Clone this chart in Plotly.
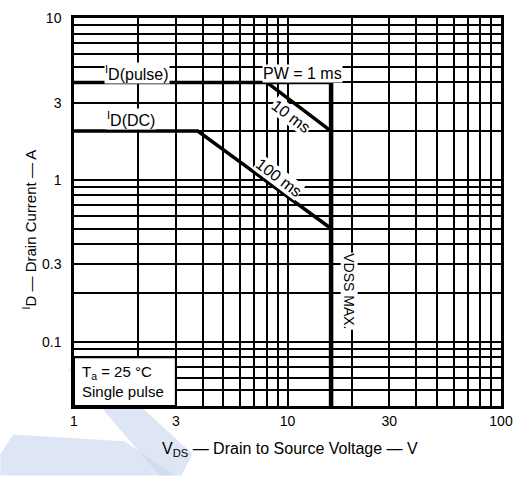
import math
import plotly.graph_objects as go

# ---- data ----
pulse_v = [1, 16]          # PW = 1 ms limit
pulse_i = [4, 4]
ms10_v = [8, 16]           # 10 ms limit
ms10_i = [4, 2]
dc_v = [1, 3.8, 16]        # DC / 100 ms limit
dc_i = [2, 2, 0.5]
vdss_v = [16, 16]          # VDSS max
vdss_i = [4, 0.04]

x_ticks = [1, 3, 10, 30, 100]
x_ticklabels = ["1", "3", "10", "30", "100"]
x_minor = [2, 4, 5, 6, 7, 8, 9, 20, 40, 50, 60, 70, 80, 90]
y_ticks = [0.1, 0.3, 1, 3, 10]
y_ticklabels = ["0.1", "0.3", "1", "3", "10"]
y_minor = [0.05, 0.06, 0.07, 0.08, 0.09, 0.2, 0.4, 0.5, 0.6, 0.7, 0.8, 0.9,
           2, 4, 5, 6, 7, 8, 9]

W, H = 523, 477
ML, MR, MT, MB = 74, 20, 10, 71
PW_, PH_ = W - ML - MR, H - MT - MB


def px(xp):
    return (xp - ML) / PW_


def py(yp):
    return (H - MB - yp) / PH_


FONT = "Liberation Sans, Arial, sans-serif"
fig = go.Figure()

line_style = dict(color="black", width=3.5)
for xv, yv in [(pulse_v, pulse_i), (ms10_v, ms10_i), (dc_v, dc_i)]:
    fig.add_trace(go.Scatter(x=xv, y=yv, mode="lines", line=line_style,
                             showlegend=False, hoverinfo="skip"))
fig.add_trace(go.Scatter(x=vdss_v, y=vdss_i, mode="lines",
                         line=dict(color="black", width=4.5),
                         showlegend=False, hoverinfo="skip"))

grid = dict(showgrid=True, gridcolor="black", gridwidth=1.6)
fig.update_xaxes(type="log", range=[0, 2], tickmode="array", tickvals=x_ticks,
                 ticktext=x_ticklabels, **grid,
                 minor=dict(tickmode="array", tickvals=x_minor, showgrid=True,
                            gridcolor="black", gridwidth=1.6, ticks=""),
                 showline=True, linecolor="black", linewidth=2.5, mirror=True,
                 zeroline=False, ticks="", tickfont=dict(family=FONT, size=14, color="black"))
fig.update_yaxes(type="log", range=[math.log10(0.04), 1], tickmode="array", tickvals=y_ticks,
                 ticktext=y_ticklabels, **grid,
                 minor=dict(tickmode="array", tickvals=y_minor, showgrid=True,
                            gridcolor="black", gridwidth=1.6, ticks=""),
                 showline=True, linecolor="black", linewidth=2.5, mirror=True,
                 zeroline=False, ticks="", ticklabelstandoff=7,
                 tickfont=dict(family=FONT, size=14, color="black"))

shapes = []
# watermark (light blue)
wm = "rgba(200,214,240,0.6)"
band = [(68, 368), (100, 368), (193, 455), (182, 477), (160, 477)]
para = [(13, 435), (125, 442), (175, 477), (0, 477), (0, 455)]
for poly in (band, para):
    path = "M " + " L ".join(f"{px(a):.4f},{py(b):.4f}" for a, b in poly) + " Z"
    shapes.append(dict(type="path", path=path, xref="paper", yref="paper",
                       fillcolor=wm, line=dict(width=0), layer="below"))
# condition box
shapes.append(dict(type="rect", xref="x", yref="y", x0=1, x1=3, y0=0.04, y1=0.08,
                   fillcolor="white", line=dict(color="black", width=2),
                   layer="above"))
fig.update_layout(shapes=shapes)

L = math.log10
ann_font = dict(family=FONT, size=16, color="black")
anns = [
    dict(x=L(1.97), y=L(4.6), text="<sup>I</sup>D(pulse)", bgcolor="white"),
    dict(x=L(1.85), y=L(2.38), text="<sup>I</sup>D(DC)", bgcolor="white"),
    dict(x=L(11.8), y=L(4.55), text="PW = 1 ms", bgcolor="white"),
    dict(x=L(10.4), y=L(2.45), text="10 ms", textangle=37, bgcolor="white"),
    dict(x=L(9.1), y=L(1.04), text="100 ms", textangle=37, bgcolor="white"),
    dict(x=L(19.4), y=L(0.205), text="VDSS MAX.", textangle=90, bgcolor="white",
         font=dict(family=FONT, size=14, color="black")),
    dict(x=L(1.08), y=L(0.0565), text="T<sub>a</sub> = 25 °C<br>Single pulse",
         xanchor="left", align="left", font=dict(family=FONT, size=15, color="black")),
]
for a in anns:
    a.setdefault("xref", "x")
    a.setdefault("yref", "y")
    a.setdefault("showarrow", False)
    a.setdefault("font", ann_font)
    a.setdefault("borderpad", 0)
    fig.add_annotation(**a)

fig.add_annotation(xref="paper", yref="paper", x=px(291), y=py(462),
                   text="V<sub>DS</sub> — Drain to Source Voltage — V", showarrow=False,
                   font=dict(family=FONT, size=16, color="black"))
fig.add_annotation(xref="paper", yref="paper", x=px(18), y=py(226), textangle=-90,
                   text="<sup>I</sup>D — Drain Current — A", showarrow=False,
                   font=dict(family=FONT, size=15, color="black"))

fig.update_layout(width=W, height=H, margin=dict(l=ML, r=MR, t=MT, b=MB),
                  paper_bgcolor="white", plot_bgcolor="rgba(0,0,0,0)")
fig.write_html("out.html")
